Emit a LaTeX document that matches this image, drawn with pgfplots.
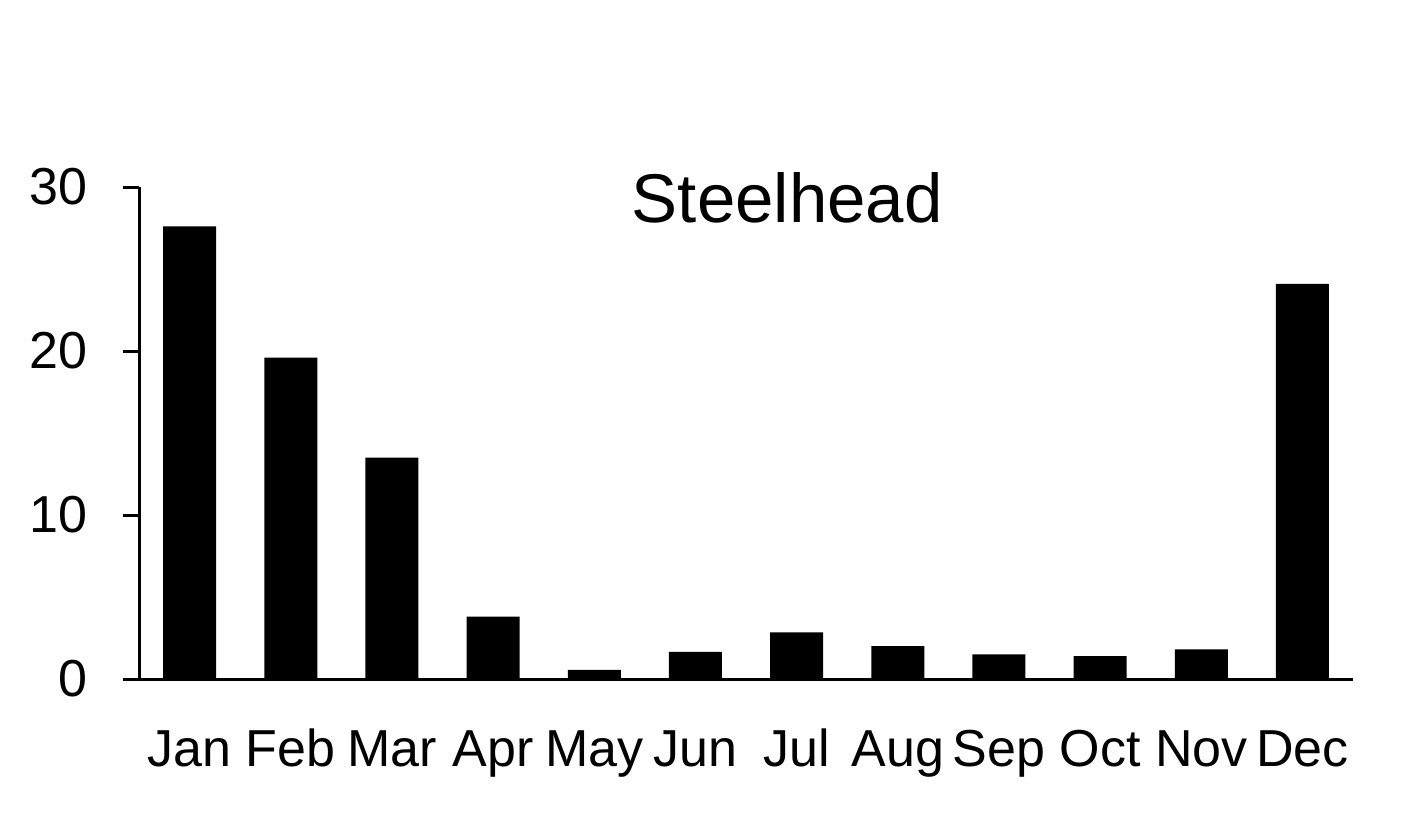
\documentclass[border=0pt]{standalone}
\usepackage{pgfplots}
\pgfplotsset{compat=1.18}
\usepackage{fontspec}
\setmainfont{Liberation Sans}
\begin{document}
\begin{tikzpicture}
\begin{axis}[
    scale only axis,
    width=607pt, height=246pt,
    clip=false,
    axis lines=left,
    axis line style={draw=black, line width=1.5pt, -},
    xmin=-0.5, xmax=11.5,
    ymin=0, ymax=30,
    ytick={0,10,20,30},
    xtick=data,
    xticklabels={Jan,Feb,Mar,Apr,May,Jun,Jul,Aug,Sep,Oct,Nov,Dec},
    x tick style={draw=none},
    y tick style={black, line width=1.5pt},
    tick align=outside,
    major tick length=8pt,
    /pgf/number format/assume math mode=true,
    yticklabel style={font=\fontsize{26}{30}\selectfont, xshift=-14.5pt},
    xticklabel style={font=\fontsize{26}{30}\selectfont, anchor=base, yshift=-35.5pt},
    ybar, bar width=26.5pt,
]
\coordinate (o) at (rel axis cs:0,0);
\addplot[fill=black, draw=none] coordinates {
    (0,27.6) (1,19.6) (2,13.5) (3,3.8) (4,0.55) (5,1.65)
    (6,2.85) (7,2.0) (8,1.5) (9,1.4) (10,1.8) (11,24.1)
};
\node[anchor=base, font=\fontsize{34.5}{40}\selectfont] at (axis description cs:0.534,0.927) {Steelhead};
\end{axis}
\pgfresetboundingbox
\path[use as bounding box] ([shift={(-69.5pt,-68pt)}]o) rectangle ([shift={(636pt,339.5pt)}]o);
\end{tikzpicture}
\end{document}
